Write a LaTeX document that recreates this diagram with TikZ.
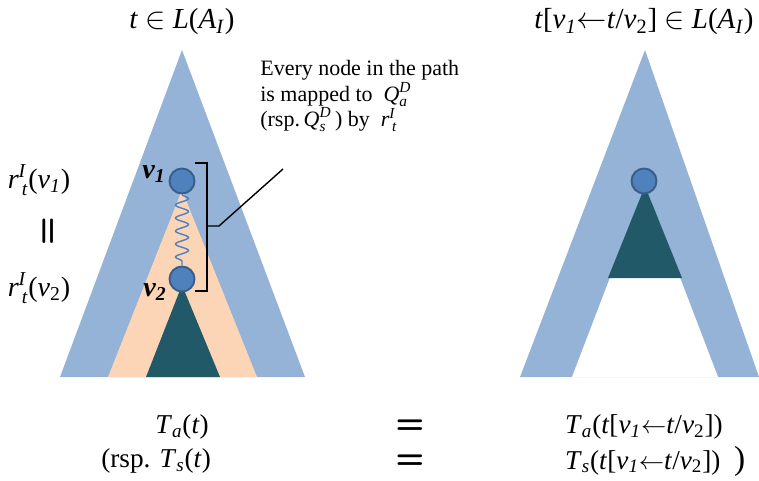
\documentclass[tikz,border=0pt]{standalone}
\usepackage{amsmath}
\usepackage{fontspec}
\setmainfont{Liberation Serif}
\usetikzlibrary{decorations.pathmorphing}
\definecolor{treeblue}{RGB}{149,179,215}
\definecolor{pathpeach}{RGB}{251,213,181}
\definecolor{subteal}{RGB}{33,89,104}
\definecolor{nodeblue}{RGB}{79,129,189}
\definecolor{nodeedge}{RGB}{56,93,138}
\newcommand\iv[1]{\textit{#1}}
\newcommand\isub[1]{\textsubscript{\textit{#1}}}
\newcommand\swap{\iv{t}[\iv{v}\isub{1}$\leftarrow$\iv{t}/\iv{v}\textsubscript{2}]}

\begin{document}
\begin{tikzpicture}[x=0.02cm,y=-0.02cm,
  vert/.style={circle,fill=nodeblue,draw=nodeedge,line width=1.1pt,inner sep=0pt,minimum size=0.5cm},
  big/.style={font=\fontsize{16.5}{20}\selectfont,inner sep=1pt},
  eqn/.style={font=\fontsize{15.5}{19}\selectfont,inner sep=1pt},
  mid/.style={font=\fontsize{16}{19}\selectfont,inner sep=1pt},
  eqsign/.style={font=\fontsize{19}{20}\sffamily\bfseries,inner sep=1pt}]
\useasboundingbox (0,0) rectangle (759,480);
% left tree t
\fill[treeblue] (182,50) -- (305,377) -- (60,377) -- cycle;
\fill[pathpeach] (182,190) -- (257,377) -- (108,377) -- cycle;
\fill[subteal] (182,285) -- (220,377) -- (146,377) -- cycle;
\node[vert] (v1) at (182,181) {};
\node[vert] (v2) at (182,279) {};
\draw[nodeblue,line width=0.8pt,decorate,decoration={snake,amplitude=1.3mm,segment length=2.6mm}] (v1.south) -- (v2.north);
\node[mid] (l1) at (154,174) {\bfseries\itshape v\textsubscript{1}};
\node[mid] (l2) at (155,292) {\bfseries\itshape v\textsubscript{2}};
% right tree t[v1 <- t/v2]
\fill[treeblue] (645,50) -- (759,377) -- (520,377) -- cycle;
\fill[white] (645,186) -- (718,377) -- (572,377) -- cycle;
\fill[subteal] (645,186) -- (682,278) -- (608,278) -- cycle;
\node[vert] (w1) at (644,181) {};
% titles
\node[big] (tleft) at (182,22) {\iv{t} $\in$ \iv{L}(\iv{A}\isub{I})};
\node[big] (tright) at (644,22) {\swap{} $\in$ \iv{L}(\iv{A}\isub{I})};
% r labels
\node[mid] (r1) at (39,180) {$\iv{r}^{\iv{I}}_{\,\iv{t}}$(\iv{v}\isub{1})};
\node[eqsign,rotate=90] (req) at (50,231) {=};
\node[mid] (r2) at (39,288) {$\iv{r}^{\iv{I}}_{\,\iv{t}}$(\iv{v}\textsubscript{2})};
% bracket and note
\coordinate (b1) at (195,163);
\coordinate (b2) at (195,291);
\coordinate (bm) at (207,226);
\draw[line width=0.8pt] (b1) -- (207,163) -- (207,291) -- (b2);
\node[font=\fontsize{12.5}{14.5}\selectfont,align=left,anchor=north west,inner sep=0pt] (note) at (260,60)
  {Every node in the path\\ is mapped to ~$\iv{Q}^{\iv{D}}_{\iv{a}}$\\ (rsp.\,$\iv{Q}^{\iv{D}}_{\iv{s}}$\,) by ~$\iv{r}^{\iv{I}}_{\,\iv{t}}$};
\draw[line width=0.8pt] (bm) -- (219,226) -- (283,169);
% bottom equations
\node[eqn] (ta) at (182,427) {\iv{T}\isub{a}(\iv{t})};
\node[eqn,anchor=east] (ts) at (213,461) {(rsp. \iv{T}\isub{s}(\iv{t})};
\node[eqsign] (eq1) at (410,427) {=};
\node[eqsign] (eq2) at (410,462) {=};
\node[eqn,anchor=west] (ta2) at (563,427) {\iv{T}\isub{a}(\swap)};
\node[eqn,anchor=west] (ts2) at (563,461) {\iv{T}\isub{s}(\swap)\ \ {\fontsize{19}{20}\selectfont)}};
\end{tikzpicture}
\end{document}
